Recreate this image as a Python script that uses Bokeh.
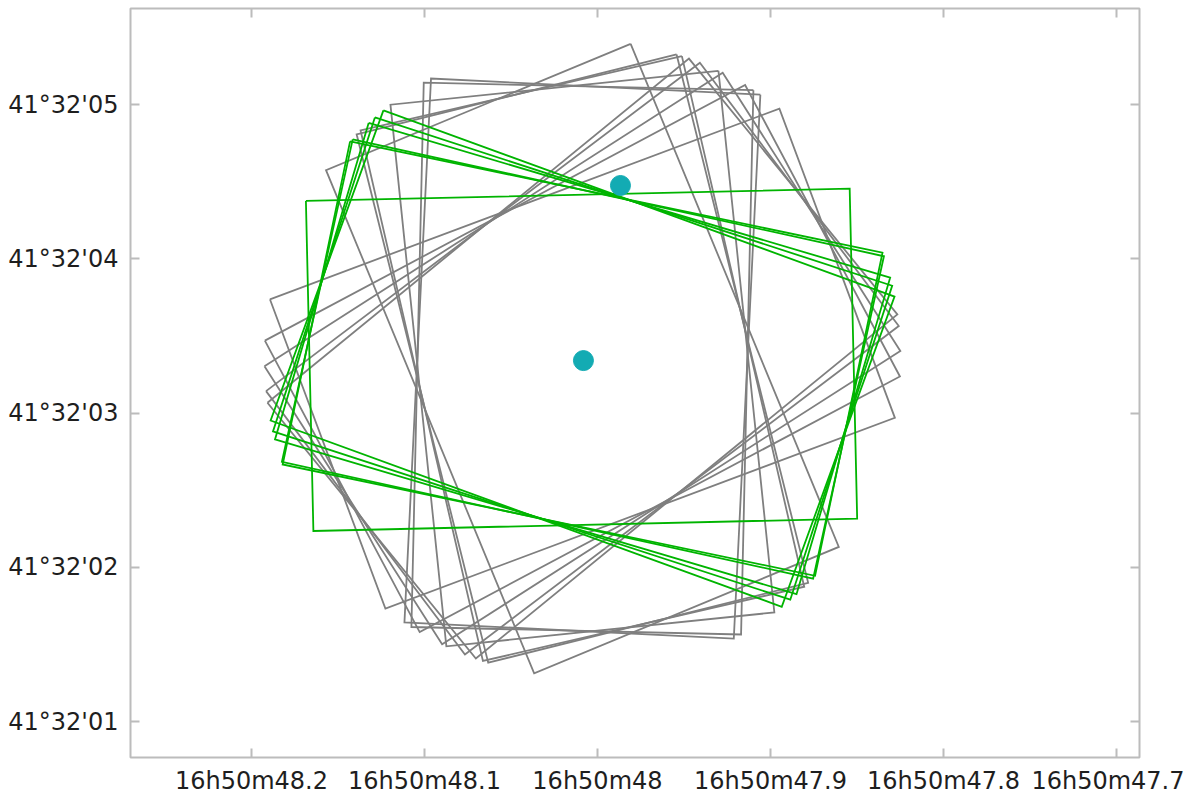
import numpy as np
from bokeh.plotting import figure
from bokeh.models import Range1d, LinearAxis, FixedTicker
from bokeh.embed import file_html
from bokeh.resources import INLINE

# ---- axis ticks (RA seconds after 16h50m, Dec arcsec after 41°32') ----
ra_ticks = [48.2, 48.1, 48.0, 47.9, 47.8, 47.7]
ra_labels = ["16h50m48.2", "16h50m48.1", "16h50m48", "16h50m47.9", "16h50m47.8", "16h50m47.7"]
dec_ticks = [1, 2, 3, 4, 5]
dec_labels = ["41°32'01", "41°32'02", "41°32'03", "41°32'04", "41°32'05"]

# ---- footprint size (arcsec) ----
fp_width = 3.53
fp_height = 2.14

# ---- gray footprints: centre RA (s), centre Dec ("), rotation (deg) ----
gray_ra = [48.0087] * 11
gray_dec = [3.353] * 11
gray_rot = [-39.2, -37.1, -32.6, -28.0, -20.5, 67.5, 76.0, 77.0, 84.1, 91.3, 92.8]

# ---- green footprints ----
green_ra = [48.0092, 48.0086, 48.0084, 48.0086, 48.0086, 48.0086]
green_dec = [3.345, 3.353, 3.350, 3.353, 3.353, 3.353]
green_rot = [-1.3, 11.8, 12.4, 16.5, 18.0, 20.0]

# ---- cyan sources ----
src_ra = [48.0081, 47.9867]
src_dec = [3.340, 4.475]

dec0 = 41.0 + 32.0 / 60.0 + 3.35 / 3600.0
ra_scale = 15.0 * np.cos(np.radians(dec0))  # arcsec per second of RA


def outlines(ras, decs, rots):
    xs, ys = [], []
    u0 = np.array([-1, 1, 1, -1, -1]) * fp_width / 2
    v0 = np.array([1, 1, -1, -1, 1]) * fp_height / 2
    for ra, dec, rot in zip(ras, decs, rots):
        t = np.radians(rot)
        u = u0 * np.cos(t) + v0 * np.sin(t)
        v = -u0 * np.sin(t) + v0 * np.cos(t)
        xs.append(list(ra - u / ra_scale))
        ys.append(list(dec + v))
    return xs, ys


frame_col = "#bcbcbc"
font = "DejaVu Sans"

p = figure(
    frame_width=1009, frame_height=749,
    x_range=Range1d(48.2699, 47.6867), y_range=Range1d(0.7667, 5.6224),
    output_backend="svg", toolbar_location=None, tools="",
    x_axis_location=None, y_axis_location=None,
    min_border_left=130, min_border_top=8, min_border_right=45, min_border_bottom=10,
)
p.outline_line_color = frame_col
p.outline_line_width = 2
p.xgrid.visible = False
p.ygrid.visible = False
p.background_fill_color = "white"
p.border_fill_color = "white"


def make_axis(ticks, labels, show):
    ax = LinearAxis(ticker=FixedTicker(ticks=ticks))
    ax.axis_line_color = None
    ax.major_tick_line_color = frame_col
    ax.major_tick_line_width = 2
    ax.major_tick_in = 9
    ax.major_tick_out = 0
    ax.minor_tick_line_color = None
    if show:
        ax.major_label_overrides = {t: l for t, l in zip(ticks, labels)}
        ax.major_label_text_font = font
        ax.major_label_text_font_size = "24px"
        ax.major_label_text_color = "#1e1e1e"
        ax.major_label_standoff = 9
    else:
        ax.major_label_text_font_size = "0px"
        ax.major_label_standoff = 0
        ax.major_label_text_color = None
    return ax


bx = make_axis(ra_ticks, ra_labels, True)
p.add_layout(bx, "below")
ly = make_axis(dec_ticks, dec_labels, True)
ly.major_label_standoff = 12
p.add_layout(ly, "left")
p.add_layout(make_axis(ra_ticks, ra_labels, False), "above")
p.add_layout(make_axis(dec_ticks, dec_labels, False), "right")

gx, gy = outlines(gray_ra, gray_dec, gray_rot)
p.multi_line(gx, gy, line_color="#7f7f7f", line_width=1.8, line_join="miter")
ex, ey = outlines(green_ra, green_dec, green_rot)
p.multi_line(ex, ey, line_color="#00b400", line_width=1.8, line_join="miter")

p.scatter(src_ra, src_dec, size=20, fill_color="#13abb3", line_color="#13abb3")

open("out.html", "w").write(file_html(p, INLINE))
